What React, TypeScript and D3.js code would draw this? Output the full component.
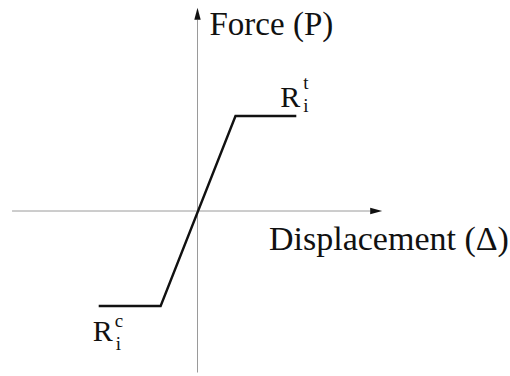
import React from "react";
import * as d3 from "d3";

// Piecewise-linear force–displacement law (elastic-perfectly-plastic)
const displacement: number[] = [-2.6, -0.97, 1.0, 2.6];
const force: number[] = [-1, -1, 1, 1];
const xAxisExtent: number[] = [-4.88, 4.86];
const yAxisExtent: number[] = [-1.7, 2.14];
const xLabel = "Displacement (Δ)";
const yLabel = "Force (P)";

const W = 510;
const H = 376;

export default function App() {
  const x = d3.scaleLinear().domain([-5, 5]).range([7.5, 387.5]);
  const y = d3.scaleLinear().domain([-1.7, 2.2]).range([372.5, 2]);

  const pts: [number, number][] = displacement.map((d, i) => [d, force[i]]);
  const line = d3
    .line<[number, number]>()
    .x((d) => x(d[0]))
    .y((d) => y(d[1]));

  const x0 = x(0);
  const y0 = y(0);
  const xEnd = x(xAxisExtent[1]);
  const yEnd = y(yAxisExtent[1]);
  const ah = 12; // arrow length
  const aw = 3.2; // arrow half width
  const font = "Liberation Serif";

  const tPlateau = pts[3];
  const cPlateau = pts[0];

  return (
    <svg
      width={W}
      height={H}
      style={{ position: "absolute", left: 0, top: 0, background: "#fff" }}
    >
      <rect width={W} height={H} fill="#fff" />
      {/* axes */}
      <line
        x1={x(xAxisExtent[0])}
        x2={xEnd - ah}
        y1={y0}
        y2={y0}
        stroke="#9a9a9a"
        strokeWidth={1}
      />
      <path
        d={`M${xEnd},${y0} L${xEnd - ah},${y0 - aw} L${xEnd - ah},${y0 + aw} Z`}
        fill="#111"
      />
      <line
        x1={x0}
        x2={x0}
        y1={y(yAxisExtent[0])}
        y2={yEnd + ah}
        stroke="#9a9a9a"
        strokeWidth={1}
      />
      <path
        d={`M${x0},${yEnd} L${x0 - aw},${yEnd + ah} L${x0 + aw},${yEnd + ah} Z`}
        fill="#111"
      />
      {/* curve */}
      <path
        d={line(pts) || ""}
        fill="none"
        stroke="#111"
        strokeWidth={2.4}
        strokeLinejoin="miter"
      />
      {/* axis labels */}
      <text x={x0 + 12} y={35} fontFamily={font} fontSize={33} fill="#111">
        {yLabel}
      </text>
      <text x={269} y={250} fontFamily={font} fontSize={34} fill="#111">
        {xLabel}
      </text>
      {/* R_i^t */}
      <g fontFamily={font} fill="#111">
        <text x={x(tPlateau[0]) - 16} y={y(tPlateau[1]) - 9} fontSize={30}>
          R
        </text>
        <text x={x(tPlateau[0]) + 7} y={y(tPlateau[1]) - 27} fontSize={19}>
          t
        </text>
        <text x={x(tPlateau[0]) + 7} y={y(tPlateau[1]) - 4} fontSize={19}>
          i
        </text>
      </g>
      {/* R_i^c */}
      <g fontFamily={font} fill="#111">
        <text x={x(cPlateau[0]) - 6} y={y(cPlateau[1]) + 35} fontSize={30}>
          R
        </text>
        <text x={x(cPlateau[0]) + 16} y={y(cPlateau[1]) + 21} fontSize={19}>
          c
        </text>
        <text x={x(cPlateau[0]) + 17} y={y(cPlateau[1]) + 44} fontSize={19}>
          i
        </text>
      </g>
    </svg>
  );
}
